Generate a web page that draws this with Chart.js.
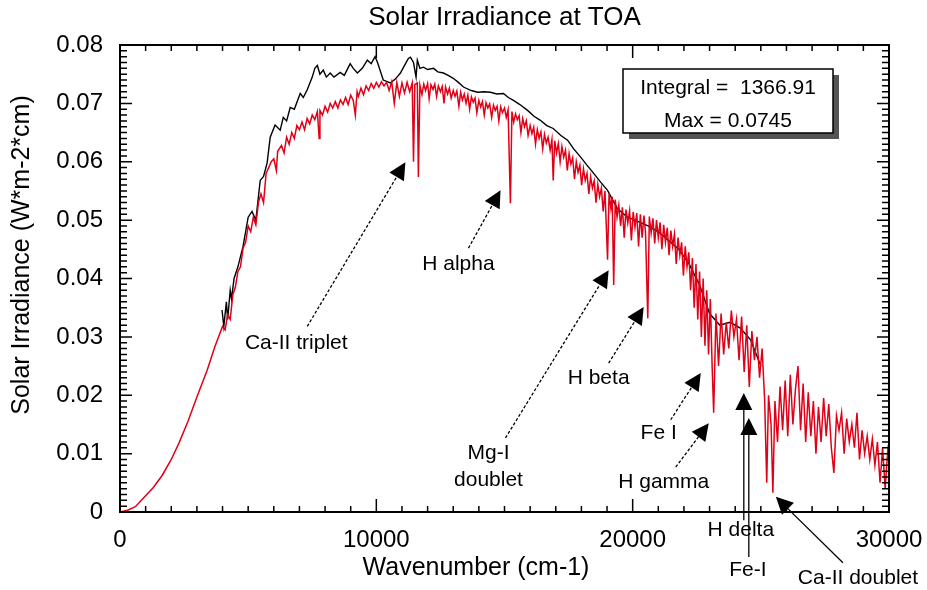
<!DOCTYPE html>
<html>
<head>
<meta charset="utf-8">
<script src="https://cdn.jsdelivr.net/npm/chart.js@4.4.1/dist/chart.umd.min.js"></script>
<style>
  html, body { margin: 0; padding: 0; background: #fff; }
</style>
</head>
<body>
<canvas id="chart" width="927" height="590"></canvas>
<script>
const FONT = '"Liberation Sans", Arial, sans-serif'

// red: solar spectrum, wavenumber (cm-1) / irradiance (W*m-2*cm)
const redX = [
  0, 300, 600, 1000, 1300, 1650, 2000, 2300, 2650, 3000, 3400, 3700, 4000, 4100, 4200, 4300, 4400, 4500, 4600, 4700,
  4800, 4900, 5000, 5100, 5200, 5300, 5400, 5500, 5600, 5700, 5800, 5900, 6000, 6100, 6150, 6300, 6400, 6500, 6600, 6700,
  6800, 6900, 7000, 7100, 7200, 7300, 7400, 7500, 7600, 7700, 7770, 7800, 7900, 8000, 8100, 8200, 8300, 8400, 8500, 8600,
  8700, 8800, 8900, 9000, 9100, 9180, 9250, 9300, 9400, 9500, 9600, 9700, 9800, 9900, 10000, 10100, 10200, 10300, 10400, 10500,
  10600, 10700, 10800, 10900, 11000, 11100, 11200, 11300, 11400, 11450, 11500, 11600, 11640, 11700, 11780, 11850, 11920, 12000, 12060, 12130,
  12210, 12280, 12350, 12420, 12500, 12570, 12640, 12700, 12780, 12850, 12920, 13000, 13070, 13140, 13220, 13290, 13360, 13430, 13500, 13570,
  13640, 13710, 13780, 13850, 13920, 14000, 14070, 14140, 14210, 14280, 14350, 14420, 14500, 14570, 14640, 14710, 14780, 14850, 14920, 15000,
  15070, 15140, 15230, 15290, 15360, 15430, 15500, 15570, 15640, 15710, 15780, 15850, 15920, 16000, 16070, 16140, 16210, 16280, 16350, 16420,
  16490, 16560, 16630, 16700, 16780, 16850, 16900, 16960, 17030, 17100, 17170, 17240, 17310, 17380, 17450, 17520, 17590, 17660, 17730, 17800,
  17870, 17940, 18010, 18080, 18150, 18220, 18290, 18360, 18430, 18500, 18570, 18640, 18710, 18780, 18850, 18920, 19020, 19080, 19150, 19200,
  19260, 19320, 19390, 19460, 19530, 19600, 19670, 19740, 19810, 19880, 19950, 20020, 20090, 20160, 20230, 20300, 20370, 20440, 20500, 20590,
  20650, 20720, 20790, 20860, 20930, 21000, 21070, 21140, 21210, 21280, 21350, 21420, 21490, 21560, 21630, 21700, 21770, 21840, 21910, 21980,
  22050, 22120, 22190, 22260, 22330, 22400, 22470, 22540, 22610, 22680, 22750, 22820, 22890, 22960, 23030, 23100, 23160, 23250, 23350, 23450,
  23550, 23650, 23750, 23850, 23950, 24050, 24150, 24250, 24350, 24450, 24550, 24650, 24750, 24850, 24950, 25050, 25150, 25230, 25300, 25400,
  25470, 25550, 25650, 25750, 25850, 25950, 26050, 26150, 26250, 26350, 26450, 26550, 26650, 26750, 26850, 26950, 27050, 27150, 27250, 27350,
  27450, 27550, 27650, 27750, 27850, 27950, 28050, 28150, 28250, 28350, 28450, 28550, 28650, 28750, 28850, 28950, 29050, 29150, 29250, 29350,
  29450, 29550, 29650, 29750, 29850, 29950, 30000
]
const redY = [
  0, 0.0003, 0.0009, 0.0028, 0.0042, 0.0063, 0.0090, 0.0118, 0.0155, 0.0197, 0.0243, 0.0283, 0.0318, 0.0312, 0.0338, 0.0330, 0.0372, 0.0385, 0.0412, 0.0420,
  0.0452, 0.0462, 0.0490, 0.0480, 0.0505, 0.0492, 0.0530, 0.0545, 0.0530, 0.0580, 0.0590, 0.0600, 0.0605, 0.0585, 0.0618, 0.0628, 0.0615, 0.0642, 0.0630, 0.0650,
  0.0640, 0.0662, 0.0655, 0.0668, 0.0655, 0.0674, 0.0665, 0.0680, 0.0672, 0.0686, 0.0640, 0.0688, 0.0680, 0.0695, 0.0685, 0.0700, 0.0692, 0.0703, 0.0692, 0.0706,
  0.0698, 0.0710, 0.0698, 0.0714, 0.0705, 0.0680, 0.0720, 0.0712, 0.0726, 0.0715, 0.0730, 0.0722, 0.0734, 0.0726, 0.0736, 0.0728, 0.0737, 0.0730, 0.0736, 0.0722,
  0.0737, 0.0700, 0.0736, 0.0712, 0.0735, 0.0718, 0.0736, 0.0720, 0.0735, 0.0600, 0.0732, 0.0735, 0.0574, 0.0731, 0.0715, 0.0733, 0.0722, 0.0734, 0.0708, 0.0732,
  0.0724, 0.0733, 0.0712, 0.0730, 0.0720, 0.0729, 0.0700, 0.0728, 0.0716, 0.0726, 0.0709, 0.0722, 0.0712, 0.0721, 0.0695, 0.0719, 0.0706, 0.0716, 0.0700, 0.0714,
  0.0690, 0.0711, 0.0702, 0.0709, 0.0684, 0.0705, 0.0694, 0.0703, 0.0680, 0.0701, 0.0692, 0.0699, 0.0676, 0.0697, 0.0688, 0.0695, 0.0670, 0.0694, 0.0684, 0.0692,
  0.0676, 0.0689, 0.0529, 0.0686, 0.0668, 0.0682, 0.0672, 0.0679, 0.0650, 0.0674, 0.0660, 0.0670, 0.0645, 0.0662, 0.0648, 0.0659, 0.0630, 0.0655, 0.0640, 0.0651,
  0.0622, 0.0647, 0.0632, 0.0642, 0.0620, 0.0638, 0.0568, 0.0636, 0.0615, 0.0631, 0.0600, 0.0626, 0.0608, 0.0620, 0.0585, 0.0614, 0.0596, 0.0607, 0.0570, 0.0600,
  0.0582, 0.0594, 0.0560, 0.0588, 0.0568, 0.0580, 0.0545, 0.0574, 0.0555, 0.0567, 0.0530, 0.0561, 0.0540, 0.0555, 0.0515, 0.0550, 0.0432, 0.0546, 0.0520, 0.0540,
  0.0389, 0.0535, 0.0505, 0.0526, 0.0490, 0.0522, 0.0470, 0.0518, 0.0495, 0.0516, 0.0465, 0.0514, 0.0488, 0.0512, 0.0455, 0.0510, 0.0470, 0.0508, 0.0480, 0.0332,
  0.0506, 0.0478, 0.0503, 0.0460, 0.0500, 0.0470, 0.0496, 0.0450, 0.0492, 0.0462, 0.0487, 0.0440, 0.0482, 0.0455, 0.0476, 0.0425, 0.0470, 0.0440, 0.0462, 0.0405,
  0.0455, 0.0420, 0.0445, 0.0380, 0.0435, 0.0350, 0.0425, 0.0330, 0.0412, 0.0300, 0.0400, 0.0285, 0.0380, 0.0270, 0.0365, 0.0250, 0.0170, 0.0340, 0.0250, 0.0340,
  0.0270, 0.0325, 0.0280, 0.0345, 0.0300, 0.0330, 0.0260, 0.0335, 0.0240, 0.0320, 0.0214, 0.0310, 0.0260, 0.0300, 0.0230, 0.0280, 0.0190, 0.0050, 0.0200, 0.0150,
  0.0033, 0.0190, 0.0120, 0.0215, 0.0140, 0.0225, 0.0130, 0.0235, 0.0150, 0.0210, 0.0250, 0.0140, 0.0220, 0.0120, 0.0205, 0.0130, 0.0190, 0.0100, 0.0180, 0.0120,
  0.0195, 0.0130, 0.0185, 0.0110, 0.0067, 0.0165, 0.0140, 0.0170, 0.0100, 0.0160, 0.0120, 0.0150, 0.0110, 0.0170, 0.0090, 0.0140, 0.0100, 0.0130, 0.0090, 0.0125,
  0.0080, 0.0120, 0.0050, 0.0110, 0.0040, 0.0105, 0.0090
]

// black: second spectrum
const blackX = [
  3980, 4050, 4150, 4200, 4300, 4350, 4450, 4600, 4800, 5000, 5150, 5300, 5470, 5600, 5740, 5860, 6050, 6250, 6370, 6500,
  6640, 6800, 7030, 7150, 7300, 7500, 7600, 7700, 7800, 7930, 8050, 8200, 8350, 8590, 8750, 8980, 9100, 9260, 9450, 9650,
  9800, 9950, 10040, 10270, 10550, 10750, 10940, 11100, 11250, 11330, 11450, 11550, 11600, 11700, 11840, 12000, 12230, 12400, 12620, 12800,
  13000, 13200, 13400, 13700, 13950, 14200, 14450, 14700, 14960, 15150, 15350, 15600, 15900, 16150, 16400, 16650, 16900, 17200, 17460, 17700,
  17970, 18200, 18480, 18750, 19020, 19400, 19800, 20200, 20600, 21000, 21400, 21800, 22200, 22600, 23000, 23400, 23800, 24200, 24600, 25000
]
const blackY = [
  0.0346, 0.0318, 0.0360, 0.0330, 0.0380, 0.0365, 0.0400, 0.0420, 0.0455, 0.0505, 0.0515, 0.0500, 0.0568, 0.0575, 0.0598, 0.0642, 0.0663, 0.0654, 0.0676, 0.0670,
  0.0693, 0.0690, 0.0717, 0.0710, 0.0723, 0.0745, 0.0760, 0.0765, 0.0750, 0.0757, 0.0745, 0.0752, 0.0745, 0.0753, 0.0748, 0.0768, 0.0760, 0.0752, 0.0760, 0.0774,
  0.0768, 0.0780, 0.0771, 0.0740, 0.0735, 0.0742, 0.0752, 0.0765, 0.0777, 0.0779, 0.0770, 0.0745, 0.0774, 0.0760, 0.0762, 0.0758, 0.0760, 0.0754, 0.0752, 0.0748,
  0.0743, 0.0736, 0.0728, 0.0722, 0.0719, 0.0720, 0.0719, 0.0716, 0.0717, 0.0710, 0.0705, 0.0698, 0.0688, 0.0678, 0.0671, 0.0662, 0.0657, 0.0645, 0.0637, 0.0622,
  0.0608, 0.0595, 0.0580, 0.0565, 0.0551, 0.0520, 0.0505, 0.0498, 0.0490, 0.0480, 0.0465, 0.0450, 0.0425, 0.0390, 0.0340, 0.0320, 0.0325, 0.0315, 0.0295, 0.0250
]

// labelled absorption lines: text spot, arrow tail and arrow tip, in data units
const notes = [
  { text: ['Ca-II triplet'], at: [6875, 0.0289], from: [7305, 0.0318], to: [11133, 0.0599], dash: true },
  { text: ['H alpha'], at: [13203, 0.0425], from: [13594, 0.0452], to: [14844, 0.0551], dash: true },
  { text: ['Mg-I', 'doublet'], at: [14375, 0.0101], from: [15039, 0.0127], to: [19063, 0.0414], dash: true },
  { text: ['H beta'], at: [18672, 0.0229], from: [19063, 0.0255], to: [20430, 0.0351], dash: true },
  { text: ['Fe I'], at: [21016, 0.0135], from: [21484, 0.0158], to: [22656, 0.0238], dash: true },
  { text: ['H gamma'], at: [21211, 0.0051], from: [21680, 0.0077], to: [22969, 0.0152], dash: true },
  { text: ['H delta'], at: [24219, -0.0031], from: [24336, -0.0014], to: [24336, 0.0204], dash: false },
  { text: ['Fe-I'], at: [24492, -0.0099], from: [24531, -0.0077], to: [24531, 0.0161], dash: false },
  { text: ['Ca-II doublet'], at: [28789, -0.0113], from: [28203, -0.0087], to: [25586, 0.0026], dash: false }
]
const boxLines = ['Integral =  1366.91', 'Max = 0.0745']

function arrowHead(ctx, x0, y0, x1, y1, len, half) {
  const a = Math.atan2(y1 - y0, x1 - x0), c = Math.cos(a), s = Math.sin(a)
  ctx.beginPath()
  ctx.moveTo(x1, y1)
  ctx.lineTo(x1 - len * c + half * s, y1 - len * s - half * c)
  ctx.lineTo(x1 - len * c - half * s, y1 - len * s + half * c)
  ctx.closePath()
  ctx.fill()
}

// no extra room for edge tick labels: plot box is fixed by layout padding
function noEdgePad(s) {
  s.paddingLeft = 0; s.paddingRight = 0; s.paddingTop = 0; s.paddingBottom = 0
}

const decor = {
  id: 'decor',
  afterDatasetsDraw(chart) {
    const { ctx, chartArea: a, scales: { x, y } } = chart
    ctx.save()
    ctx.strokeStyle = '#000'
    ctx.lineWidth = 1.5
    ctx.beginPath()
    for (let v = 0; v <= 30000; v += 1000) {
      const px = x.getPixelForValue(v), len = v % 10000 === 0 ? 13 : 6
      ctx.moveTo(px, a.bottom); ctx.lineTo(px, a.bottom - len)
      ctx.moveTo(px, a.top); ctx.lineTo(px, a.top + len)
    }
    for (let i = 0; i <= 80; i++) {
      const py = y.getPixelForValue(i / 1000), len = i % 10 === 0 ? 12 : 7
      ctx.moveTo(a.left, py); ctx.lineTo(a.left + len, py)
      ctx.moveTo(a.right, py); ctx.lineTo(a.right - len, py)
    }
    ctx.stroke()
    ctx.lineWidth = 2
    ctx.strokeRect(a.left, a.top, a.right - a.left, a.bottom - a.top)
    ctx.restore()
  },
  afterDraw(chart) {
    const { ctx, chartArea: a, scales: { x, y } } = chart
    ctx.save()
    ctx.fillStyle = '#000'
    ctx.strokeStyle = '#000'
    ctx.textAlign = 'center'
    ctx.textBaseline = 'middle'

    // titles
    ctx.font = '26px ' + FONT
    ctx.fillText('Solar Irradiance at TOA', (a.left + a.right) / 2, 18)
    ctx.font = '25px ' + FONT
    ctx.fillText('Wavenumber (cm-1)', 476, 568)
    ctx.save()
    ctx.translate(22, 255)
    ctx.rotate(-Math.PI / 2)
    ctx.fillText('Solar Irradiance (W*m-2*cm)', 0, 0)
    ctx.restore()

    // arrows + labels
    ctx.font = '21px ' + FONT
    notes.forEach(n => {
      const x0 = x.getPixelForValue(n.from[0]), y0 = y.getPixelForValue(n.from[1])
      const x1 = x.getPixelForValue(n.to[0]), y1 = y.getPixelForValue(n.to[1])
      const d = Math.hypot(x1 - x0, y1 - y0), len = 17
      ctx.lineWidth = 1.3
      ctx.setLineDash(n.dash ? [3, 2] : [])
      ctx.beginPath()
      ctx.moveTo(x0, y0)
      ctx.lineTo(x1 - (x1 - x0) / d * (len - 2), y1 - (y1 - y0) / d * (len - 2))
      ctx.stroke()
      ctx.setLineDash([])
      arrowHead(ctx, x0, y0, x1, y1, len, 8.5)
      const tx = x.getPixelForValue(n.at[0]), ty = y.getPixelForValue(n.at[1])
      n.text.forEach((t, i) => ctx.fillText(t, tx, ty + i * 27))
    })

    // info box with drop shadow
    const bx = 623, by = 69, bw = 210, bh = 64
    ctx.fillStyle = '#555'
    ctx.fillRect(bx + 6, by + 6, bw, bh)
    ctx.fillStyle = '#fff'
    ctx.fillRect(bx, by, bw, bh)
    ctx.lineWidth = 1.5
    ctx.strokeRect(bx, by, bw, bh)
    ctx.fillStyle = '#000'
    ctx.fillText(boxLines[0], bx + bw / 2, by + 19)
    ctx.fillText(boxLines[1], bx + bw / 2, by + 52)
    ctx.restore()
  }
}

const tickFont = { family: FONT, size: 24 }

new Chart(document.getElementById('chart'), {
  type: 'line',
  data: {
    datasets: [
      {
        data: redX.map((v, i) => ({ x: v, y: redY[i] })),
        borderColor: '#e00018', borderWidth: 1.5, pointRadius: 0, tension: 0
      },
      {
        data: blackX.map((v, i) => ({ x: v, y: blackY[i] })),
        borderColor: '#000', borderWidth: 1.4, pointRadius: 0, tension: 0
      }
    ]
  },
  options: {
    responsive: false, animation: false, devicePixelRatio: 1,
    layout: { padding: { top: 45, right: 38, left: 0, bottom: 0 } },
    plugins: { legend: { display: false }, tooltip: { enabled: false }, title: { display: false } },
    scales: {
      x: {
        type: 'linear', min: 0, max: 30000,
        afterFit: s => { s.height = 78; noEdgePad(s) },
        grid: { display: false, drawTicks: false }, border: { display: false },
        ticks: { stepSize: 10000, padding: 14, color: '#000', font: tickFont, maxRotation: 0, autoSkip: false, callback: v => String(v) }
      },
      y: {
        min: 0, max: 0.08,
        afterFit: s => { s.width = 120; noEdgePad(s) },
        grid: { display: false, drawTicks: false }, border: { display: false },
        ticks: { stepSize: 0.01, padding: 17, color: '#000', font: tickFont, callback: v => v === 0 ? '0' : v.toFixed(2) }
      }
    }
  },
  plugins: [decor]
})
</script>
</body>
</html>
